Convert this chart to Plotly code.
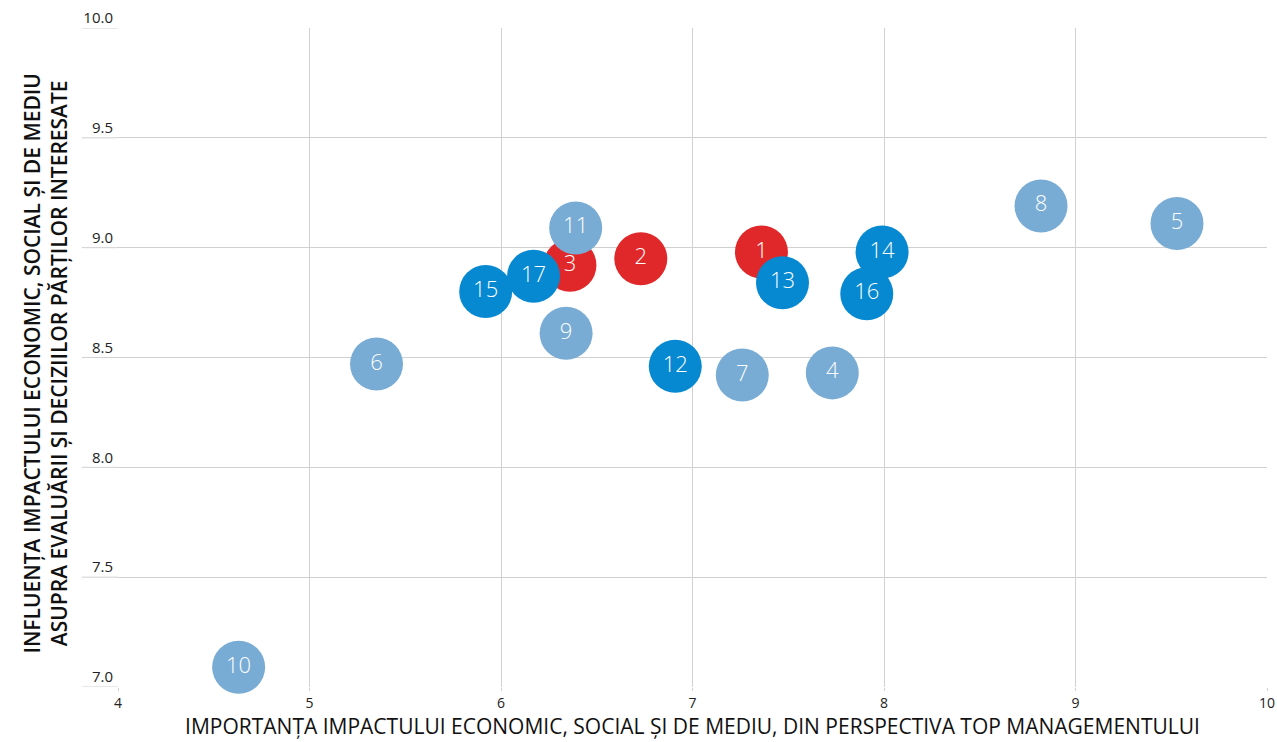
import plotly.graph_objects as go

# impact ids and positions, grouped by colour
red_ids = [1, 2, 3]
red_x = [7.36, 6.73, 6.36]
red_y = [8.98, 8.95, 8.92]

dark_ids = [12, 13, 14, 15, 16, 17]
dark_x = [6.91, 7.47, 7.99, 5.92, 7.91, 6.17]
dark_y = [8.46, 8.84, 8.98, 8.80, 8.79, 8.87]

light_ids = [4, 5, 6, 7, 8, 9, 10, 11]
light_x = [7.73, 9.53, 5.35, 7.26, 8.82, 6.34, 4.63, 6.39]
light_y = [8.43, 9.11, 8.47, 8.42, 9.19, 8.61, 7.09, 9.09]

x_ticks = [4, 5, 6, 7, 8, 9, 10]
y_ticks = [7.0, 7.5, 8.0, 8.5, 9.0, 9.5, 10.0]

FONT = "Open Sans"
GRID = "#d0d0d0"

fig = go.Figure()
for ids, xs, ys, col in [(red_ids, red_x, red_y, "#e0282a"),
                         (dark_ids, dark_x, dark_y, "#0689d1"),
                         (light_ids, light_x, light_y, "#78acd4")]:
    fig.add_trace(go.Scatter(
        x=xs, y=ys, mode="markers+text", text=[str(i) for i in ids],
        textposition="middle center",
        textfont=dict(family=FONT, size=22, color="white", weight=300),
        marker=dict(size=53, color=col, line=dict(width=0)),
        cliponaxis=False, hoverinfo="skip", showlegend=False))

fig.update_layout(
    width=1277, height=742,
    margin=dict(l=118, r=10, t=28, b=55),
    paper_bgcolor="white", plot_bgcolor="white",
    font=dict(family=FONT, color="#222"),
    xaxis=dict(range=[4, 10], tickvals=x_ticks, showgrid=True, gridcolor=GRID,
               zeroline=False, showline=False, ticks="outside", ticklen=3,
               tickcolor=GRID, tickfont=dict(size=14, color="#222"), automargin=False,
               title=dict(text="IMPORTANȚA IMPACTULUI ECONOMIC, SOCIAL ȘI DE MEDIU, DIN PERSPECTIVA TOP MANAGEMENTULUI",
                          font=dict(size=21, color="#111", weight=500), standoff=2)),
    yaxis=dict(range=[7, 10], tickvals=y_ticks, tickformat=".1f", showgrid=True,
               gridcolor=GRID, zeroline=False, showline=False, ticks="",
               ticklabelshift=-10, ticklabelstandoff=4,
               tickfont=dict(size=15, color="#222"), automargin=False),
)

# gridlines run on under the y tick labels
for v in y_ticks:
    fig.add_shape(type="line", xref="paper", yref="y", x0=-0.0315, x1=0, y0=v, y1=v,
                  line=dict(color=GRID, width=1), layer="below")

# two-line vertical y title
fig.add_annotation(
    text="INFLUENȚA IMPACTULUI ECONOMIC, SOCIAL ȘI DE MEDIU<br>ASUPRA EVALUĂRII ȘI DECIZIILOR PĂRȚILOR INTERESATE",
    xref="paper", yref="paper", x=0, y=0.5, xanchor="center", yanchor="middle",
    xshift=-73, yshift=-6, textangle=-90, showarrow=False,
    font=dict(family=FONT, size=21, color="#111", weight=600))

fig.write_html("out.html", config={"displayModeBar": False},
               post_script="document.body.style.margin='0';")
